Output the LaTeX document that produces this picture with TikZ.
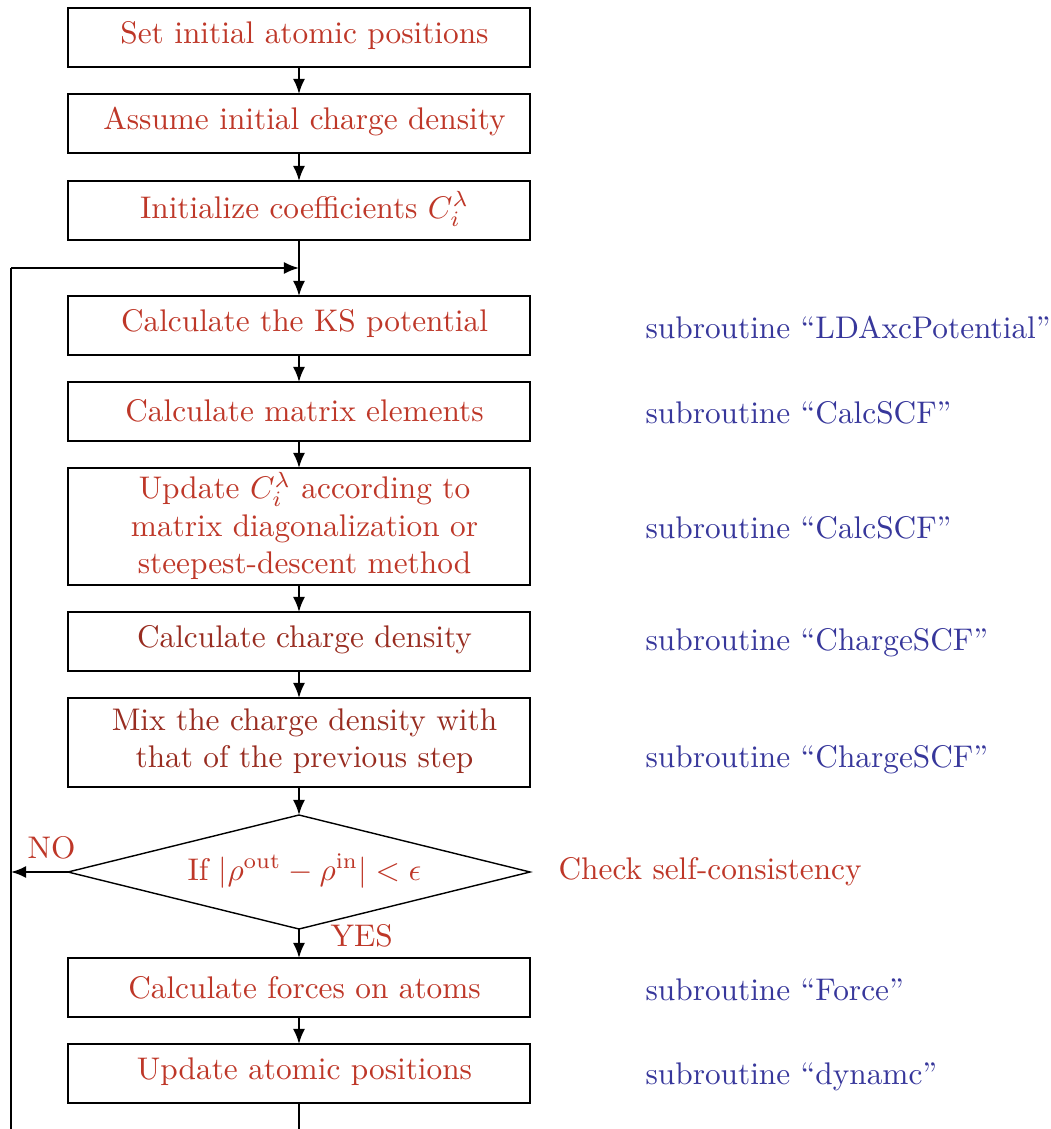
\documentclass[tikz,border=0pt]{standalone}
\usetikzlibrary{arrows.meta,shapes.geometric}
\definecolor{txtred}{RGB}{190,55,40}
\definecolor{txtblue}{RGB}{55,55,155}
\def\u{0.3195pt}
\tikzset{
  boxnode/.style={draw,line width=0.6pt,minimum width=462*\u,inner sep=0pt,outer sep=0pt},
  boldbox/.style={boxnode,line width=0.9pt},
  lbl/.style={text=txtred,align=center,inner sep=0pt,font=\normalsize},
  boldlbl/.style={lbl,text=txtred!80!black},
  sub/.style={text=txtblue,anchor=west,inner sep=0pt},
  arr/.style={line width=0.6pt,-{Latex[length=4.8pt,width=3.8pt]}},
  ln/.style={line width=0.6pt},
}
\begin{document}
\begin{tikzpicture}[x=0.3195pt,y=-0.3195pt]
\useasboundingbox (0,0) rectangle (1050,1129);
\begin{scope}
\clip (0,0) rectangle (1050,1129);
% boxes
\node[boxnode,minimum height=59*\u] (b1) at (299,37.5) {};
\node[boxnode,minimum height=59*\u] (b2) at (299,123.5) {};
\node[boxnode,minimum height=59*\u] (b3) at (299,210.5) {};
\node[boxnode,minimum height=59*\u] (b4) at (299,325.5) {};
\node[boxnode,minimum height=59*\u] (b5) at (299,411.5) {};
\node[boxnode,minimum height=117*\u] (b6) at (299,526.5) {};
\node[boldbox,minimum height=59*\u] (b7) at (299,641.5) {};
\node[boldbox,minimum height=89*\u] (b8) at (299,742.5) {};
\node[diamond,draw,line width=0.45pt,minimum width=462*\u,minimum height=114*\u,inner sep=0pt,outer sep=0pt,aspect=4.05] (d) at (299,872) {};
\node[boxnode,minimum height=59*\u] (b9) at (299,987.5) {};
\node[boxnode,minimum height=59*\u] (b10) at (299,1073.5) {};
% labels in boxes
\node[lbl] (t1) at (304.5,36) {Set initial atomic positions};
\node[lbl] (t2) at (304.5,122) {Assume initial charge density};
\node[lbl] (t3) at (304.5,209) {Initialize coefficients $C_i^\lambda$};
\node[lbl] (t4) at (304.5,324) {Calculate the KS potential};
\node[lbl] (t5) at (304.5,411) {Calculate matrix elements};
\node[lbl] (t6) at (304.5,526) {Update $C_i^\lambda$ according to\\matrix diagonalization or\\steepest-descent method};
\node[boldlbl] (t7) at (304.5,640) {Calculate charge density};
\node[boldlbl] (t8) at (304.5,741) {Mix the charge density with\\that of the previous step};
\node[lbl] (td) at (304.5,871) {If $|\rho^{\mathrm{out}}-\rho^{\mathrm{in}}|<\epsilon$};
\node[lbl] (t9) at (304.5,988) {Calculate forces on atoms};
\node[lbl] (t10) at (304.5,1072) {Update atomic positions};
% side annotations
\node[sub] (s4) at (645,327) {subroutine ``LDAxcPotential''};
\node[sub] (s5) at (645,413) {subroutine ``CalcSCF''};
\node[sub] (s6) at (645,528) {subroutine ``CalcSCF''};
\node[sub] (s7) at (645,643) {subroutine ``ChargeSCF''};
\node[sub] (s8) at (645,760) {subroutine ``ChargeSCF''};
\node[sub,text=txtred] (sd) at (558,872) {Check self-consistency};
\node[sub] (s9) at (645,990) {subroutine ``Force''};
\node[sub] (s10) at (645,1077) {subroutine ``dynamc''};
% connectors
\coordinate (j) at (299,268);
\coordinate (lt) at (11,268);
\coordinate (lno) at (11,872);
\coordinate (lbot) at (11,1140);
\coordinate (bot) at (299,1140);
\draw[arr] (b1) -- (b2);
\draw[arr] (b2) -- (b3);
\draw[arr] (b3.south) -- (b4.north);
\draw[arr] (lt) -- (j);
\draw[arr] (b4) -- (b5);
\draw[arr] (b5) -- (b6);
\draw[arr] (b6) -- (b7);
\draw[arr] (b7) -- (b8);
\draw[arr] (b8.south) -- (d.north);
\draw[arr] (d.south) -- (b9.north);
\draw[arr] (b9) -- (b10);
\draw[arr] (d.west) -- (lno);
\draw[ln] (b10.south) -- (bot);
\draw[ln] (lbot) -- (lt);
\node[lbl,anchor=west] (no) at (27,848) {NO};
\node[lbl,anchor=west] (yes) at (330,936) {YES};
\end{scope}
\end{tikzpicture}
\end{document}
